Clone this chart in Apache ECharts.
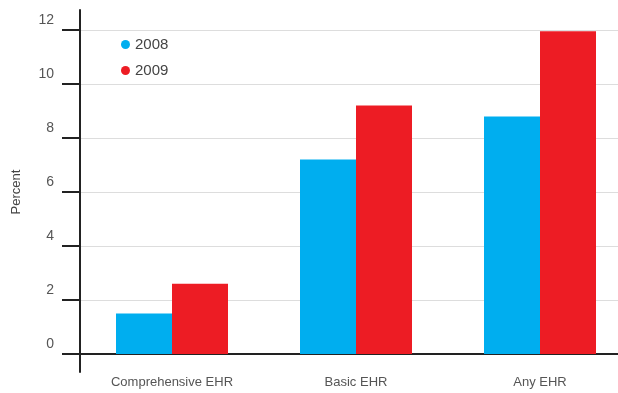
<!DOCTYPE html>
<html><head><meta charset="utf-8">
<script src="https://cdn.jsdelivr.net/npm/echarts@6/dist/echarts.min.js"></script>
<style>html,body{margin:0;padding:0;background:#fff;overflow:hidden;width:618px;height:393px}#c{width:632px;height:393px}</style>
</head><body><div id="c"></div>
<script>
const categories = ['Comprehensive EHR', 'Basic EHR', 'Any EHR'];
const values2008 = [1.5, 7.2, 8.8];
const values2009 = [2.6, 9.2, 11.95];
const seriesNames = ['2008', '2009'];
const yTicks = {min: 0, max: 12, interval: 2};

const chart = echarts.init(document.getElementById('c'), null, {renderer: 'canvas'});
const axisColor = '#222';
const font = 'Liberation Sans';
chart.setOption({
  animation: false,
  backgroundColor: '#fff',
  textStyle: {fontFamily: font},
  legend: {
    orient: 'vertical', left: 121, top: 37, padding: 0,
    icon: 'circle', itemWidth: 9, itemHeight: 9, itemGap: 11,
    textStyle: {fontSize: 15, color: '#444', fontFamily: font},
    data: seriesNames
  },
  grid: [
    {left: 80, right: 0, top: 30, bottom: 39, containLabel: false},
    {left: 80, right: 0, top: 10, bottom: 21, containLabel: false}
  ],
  xAxis: [
    {
      type: 'category', data: categories, gridIndex: 0, boundaryGap: true,
      axisLine: {lineStyle: {color: axisColor, width: 2}},
      axisTick: {alignWithLabel: true, length: 16, lineStyle: {color: axisColor, width: 2}},
      axisLabel: {margin: 22, fontSize: 13, color: '#555', fontFamily: font}
    },
    {type: 'category', data: categories, gridIndex: 1, show: false}
  ],
  yAxis: [
    {
      type: 'value', gridIndex: 0, min: yTicks.min, max: yTicks.max, interval: yTicks.interval,
      name: 'Percent', nameLocation: 'middle', nameGap: 57,
      nameTextStyle: {fontSize: 13, color: '#444', fontFamily: font},
      axisLine: {show: true, lineStyle: {color: axisColor, width: 2}},
      axisTick: {show: true, length: 18, lineStyle: {color: axisColor, width: 2}},
      axisLabel: {margin: 26, fontSize: 14, color: '#555', verticalAlign: 'bottom', lineHeight: 20, fontFamily: font},
      splitLine: {show: true, lineStyle: {color: '#dddddd', width: 1}}
    },
    {
      type: 'value', gridIndex: 1, min: 0, max: 1,
      axisLine: {show: true, onZero: false, lineStyle: {color: axisColor, width: 2}},
      axisTick: {show: false}, axisLabel: {show: false}, splitLine: {show: false}
    }
  ],
  series: [
    {name: seriesNames[0], type: 'bar', data: values2008, barWidth: 56, barGap: '0%',
     itemStyle: {color: '#00AEEF'}, xAxisIndex: 0, yAxisIndex: 0},
    {name: seriesNames[1], type: 'bar', data: values2009, barWidth: 56, barGap: '0%',
     itemStyle: {color: '#ED1C24'}, xAxisIndex: 0, yAxisIndex: 0}
  ]
});
</script></body></html>
